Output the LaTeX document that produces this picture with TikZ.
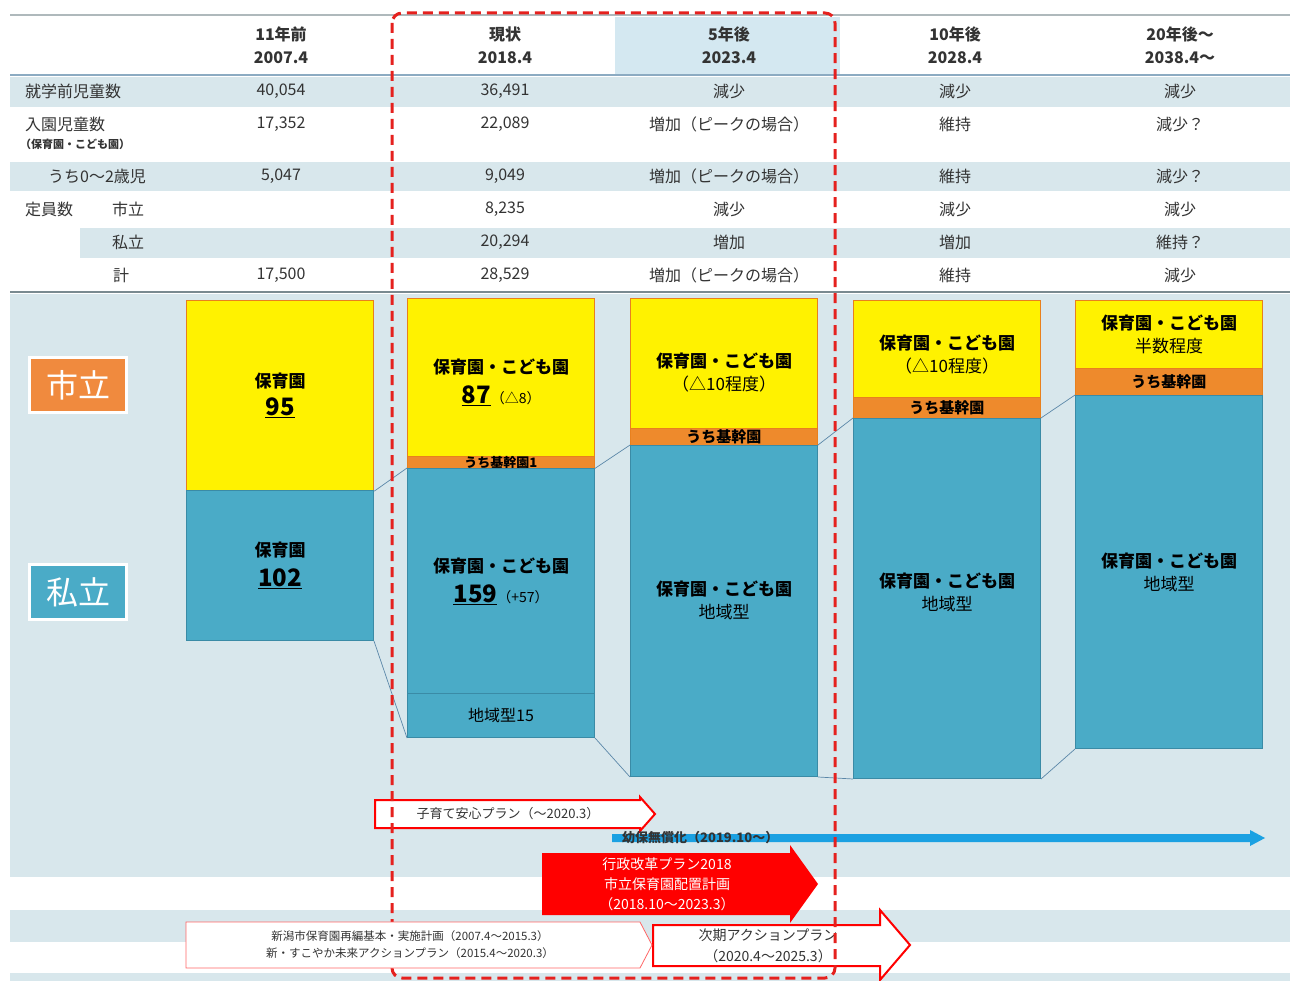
\documentclass[tikz,border=0pt]{standalone}
\usepackage{fontspec}
\setmainfont{Noto Sans CJK JP}
\usetikzlibrary{positioning}

\definecolor{bandblue}{HTML}{D8E7EC}
\definecolor{headblue}{HTML}{D4E8F1}
\definecolor{rulegray}{HTML}{7A8A90}
\definecolor{boxorange}{HTML}{E8801E}
\definecolor{kanorange}{HTML}{EE8A2C}
\definecolor{barteal}{HTML}{4AABC7}
\definecolor{tealline}{HTML}{3A8BA6}
\definecolor{shiorange}{HTML}{F08A3E}
\definecolor{planred}{HTML}{FF0000}
\definecolor{dashred}{HTML}{E5211E}
\definecolor{freeblue}{HTML}{1BA1E2}
\definecolor{linkblue}{HTML}{5B87A8}
\definecolor{inkgray}{HTML}{333333}

\begin{document}
\begin{tikzpicture}[
        x=1pt, y=-1pt,
        band/.style={fill=bandblue, draw=none},
        cell/.style={inner sep=0pt, text=inkgray, font=\fontsize{16}{19}\selectfont},
        rowname/.style={cell, anchor=west},
        head/.style={inner sep=0pt, align=center, text=inkgray, font=\bfseries\fontsize{16}{23}\selectfont},
        yelbox/.style={rectangle, draw=boxorange, fill=yellow, line width=1.2pt, anchor=north west, minimum width=187pt, inner sep=0pt, align=center, font=\bfseries\fontsize{17}{23}\selectfont},
        kanbox/.style={rectangle, draw=boxorange, fill=kanorange, line width=0.6pt, anchor=north west, minimum width=187pt, inner sep=0pt},
        kantext/.style={inner sep=0pt, font=\bfseries\fontsize{15}{15}\selectfont},
        tealbox/.style={rectangle, draw=tealline, fill=barteal, line width=1pt, anchor=north west, minimum width=187pt, inner sep=0pt, align=center, font=\bfseries\fontsize{17}{23}\selectfont},
        sidelabel/.style={rectangle, draw=white, line width=2.5pt, text=white, minimum width=97pt, minimum height=55pt, inner sep=0pt, font=\fontsize{32}{32}\selectfont},
        link/.style={draw=linkblue, line width=0.7pt},
        planarrow/.style={draw=planred, line width=2pt, fill=white},
        plantext/.style={inner sep=0pt, align=center, text=inkgray}
    ]

    \useasboundingbox (0,0) rectangle (1295,981);

    % backgrounds
    \fill[band] (10,77) rectangle (1290,107);
    \fill[band] (10,162) rectangle (1290,191);
    \fill[band] (80,228) rectangle (1290,258);
    \fill[band] (10,294) rectangle (1290,877);
    \fill[band] (10,910) rectangle (1290,942);
    \fill[band] (10,973) rectangle (1290,981);
    \fill[headblue] (615,17) rectangle (840,75);
    \draw[rulegray!60, line width=1.2pt] (10,15) -- (1290,15);
    \draw[linkblue!70, line width=1.5pt] (10,75) -- (1290,75);
    \draw[rulegray, line width=1.5pt] (10,292) -- (1290,292);

    % table head
    \node (h1) [head] at (281,45) {11年前\\2007.4};
    \node (h2) [head] at (505,45) {現状\\2018.4};
    \node (h3) [head] at (729,45) {5年後\\2023.4};
    \node (h4) [head] at (955,45) {10年後\\2028.4};
    \node (h5) [head] at (1180,45) {20年後〜\\2038.4〜};

    % table rows
    \node (n1) [rowname] at (25,91) {就学前児童数};
    \node (n2) [rowname] at (25,124) {入園児童数};
    \node (n2s) [rowname, font=\bfseries\fontsize{11}{11}\selectfont] at (20,144) {（保育園・こども園）};
    \node (n3) [rowname] at (48,176) {うち0〜2歳児};
    \node (n4) [rowname] at (25,209) {定員数};
    \node (n4a) [rowname] at (112,209) {市立};
    \node (n5a) [rowname] at (112,242) {私立};
    \node (n6a) [rowname] at (113,275) {計};

    \node (r1c1) [cell] at (281,91) {40,054};
    \node (r1c2) [cell] at (505,91) {36,491};
    \node (r1c3) [cell] at (729,91) {減少};
    \node (r1c4) [cell] at (955,91) {減少};
    \node (r1c5) [cell] at (1180,91) {減少};

    \node (r2c1) [cell] at (281,124) {17,352};
    \node (r2c2) [cell] at (505,124) {22,089};
    \node (r2c3) [cell] at (729,124) {増加（ピークの場合）};
    \node (r2c4) [cell] at (955,124) {維持};
    \node (r2c5) [cell] at (1180,124) {減少？};

    \node (r3c1) [cell] at (281,176) {5,047};
    \node (r3c2) [cell] at (505,176) {9,049};
    \node (r3c3) [cell] at (729,176) {増加（ピークの場合）};
    \node (r3c4) [cell] at (955,176) {維持};
    \node (r3c5) [cell] at (1180,176) {減少？};

    \node (r4c2) [cell] at (505,209) {8,235};
    \node (r4c3) [cell] at (729,209) {減少};
    \node (r4c4) [cell] at (955,209) {減少};
    \node (r4c5) [cell] at (1180,209) {減少};

    \node (r5c2) [cell] at (505,242) {20,294};
    \node (r5c3) [cell] at (729,242) {増加};
    \node (r5c4) [cell] at (955,242) {増加};
    \node (r5c5) [cell] at (1180,242) {維持？};

    \node (r6c1) [cell] at (281,275) {17,500};
    \node (r6c2) [cell] at (505,275) {28,529};
    \node (r6c3) [cell] at (729,275) {増加（ピークの場合）};
    \node (r6c4) [cell] at (955,275) {維持};
    \node (r6c5) [cell] at (1180,275) {減少};

    % side labels
    \node (shi) [sidelabel, fill=shiorange] at (78,385) {市立};
    \node (shiri) [sidelabel, fill=barteal] at (78,592) {私立};

    % bars
    \node (y1) [yelbox, minimum height=190pt] at (186,300) {保育園\\[5pt]{\fontsize{24}{28}\selectfont\underline{95}}};
    \node (t1) [tealbox, minimum height=150pt] at (186,490) {保育園\\[7pt]{\fontsize{24}{28}\selectfont\underline{102}}};

    \node (y2) [yelbox, minimum height=158pt] at (407,298) {\rule{0pt}{25pt}保育園・こども園\\[7pt]{\fontsize{24}{28}\selectfont\underline{87}}{\mdseries\fontsize{14}{14}\selectfont（△8）}};
    \node (k2) [kanbox, minimum height=12pt, label={[kantext, font=\bfseries\fontsize{13}{13}\selectfont]center:うち基幹園1}] at (407,456) {};
    \node (t2) [tealbox, minimum height=225pt] at (407,468) {保育園・こども園\\[7pt]{\fontsize{24}{28}\selectfont\underline{159}}{\mdseries\fontsize{14}{14}\selectfont（+57）}};
    \node (c2) [tealbox, minimum height=44pt, font=\fontsize{16}{16}\selectfont] at (407,693) {地域型15};

    \node (y3) [yelbox, minimum height=130pt] at (630,298) {\rule{0pt}{33pt}保育園・こども園\\{\mdseries（△10程度）}};
    \node (k3) [kanbox, minimum height=17pt, label={[kantext]center:うち基幹園}] at (630,428) {};
    \node (t3) [tealbox, minimum height=331pt] at (630,445) {保育園・こども園\\{\mdseries 地域型}\\};

    \node (y4) [yelbox, minimum height=97pt] at (853,300) {\rule{0pt}{25pt}保育園・こども園\\{\mdseries（△10程度）}};
    \node (k4) [kanbox, minimum height=21pt, label={[kantext]center:うち基幹園}] at (853,397) {};
    \node (t4) [tealbox, minimum height=360pt] at (853,418) {保育園・こども園\\{\mdseries 地域型}\\[-9pt]};

    \node (y5) [yelbox, minimum height=68pt] at (1075,300) {保育園・こども園\\{\mdseries 半数程度}};
    \node (k5) [kanbox, minimum height=27pt, label={[kantext]center:うち基幹園}] at (1075,368) {};
    \node (t5) [tealbox, minimum height=353pt] at (1075,395) {保育園・こども園\\{\mdseries 地域型}};

    % links between bars
    \draw[link] (y1.south east) -- (t2.north west);
    \draw[link] (t1.south east) -- (c2.south west);
    \draw[link] (k2.south east) -- (t3.north west);
    \draw[link] (c2.south east) -- (t3.south west);
    \draw[link] (t3.north east) -- (t4.north west);
    \draw[link] (t3.south east) -- (t4.south west);
    \draw[link] (t4.north east) -- (t5.north west);
    \draw[link] (t4.south east) -- (t5.south west);

    % plans
    \draw[planarrow] (375,800) -- (640,800) -- (640,797) -- (655,814) -- (640,831) -- (640,828) -- (375,828) -- cycle;
    \node (kosodate) [plantext, font=\fontsize{13}{13}\selectfont] at (508,814) {子育て安心プラン（〜2020.3）};

    \fill[freeblue] (612,834) -- (1250,834) -- (1250,830) -- (1265,838) -- (1250,846) -- (1250,842) -- (612,842) -- cycle;
    \node (mushoka) [plantext, anchor=west, font=\bfseries\fontsize{13}{13}\selectfont] at (622,838) {幼保無償化（2019.10〜）};

    \fill[planred] (542,853) -- (790,853) -- (790,845) -- (818,884) -- (790,923) -- (790,915) -- (542,915) -- cycle;
    \node (gyokaku) [plantext, text=white, font=\fontsize{14}{20}\selectfont] at (667,884) {行政改革プラン2018\\市立保育園配置計画\\（2018.10〜2023.3）};

    \draw[planarrow] (653,925) -- (880,925) -- (880,910) -- (910,945) -- (880,980) -- (880,966) -- (653,966) -- cycle;
    \node (jiki) [plantext, font=\fontsize{14}{21}\selectfont] at (768,946) {次期アクションプラン\\（2020.4〜2025.3）};

    % current and five-year window
    \draw[dashred, line width=3pt, dash pattern=on 10pt off 6pt, rounded corners=10pt] (392,13) rectangle (835,978);

    \draw[draw=planred!60, fill=white, line width=0.8pt] (186,922) -- (640,922) -- (652,945) -- (640,968) -- (186,968) -- cycle;
    \node (saihen) [plantext, font=\fontsize{11.5}{17}\selectfont] at (410,945) {新潟市保育園再編基本・実施計画（2007.4〜2015.3）\\新・すこやか未来アクションプラン（2015.4〜2020.3）};

\end{tikzpicture}
\end{document}
